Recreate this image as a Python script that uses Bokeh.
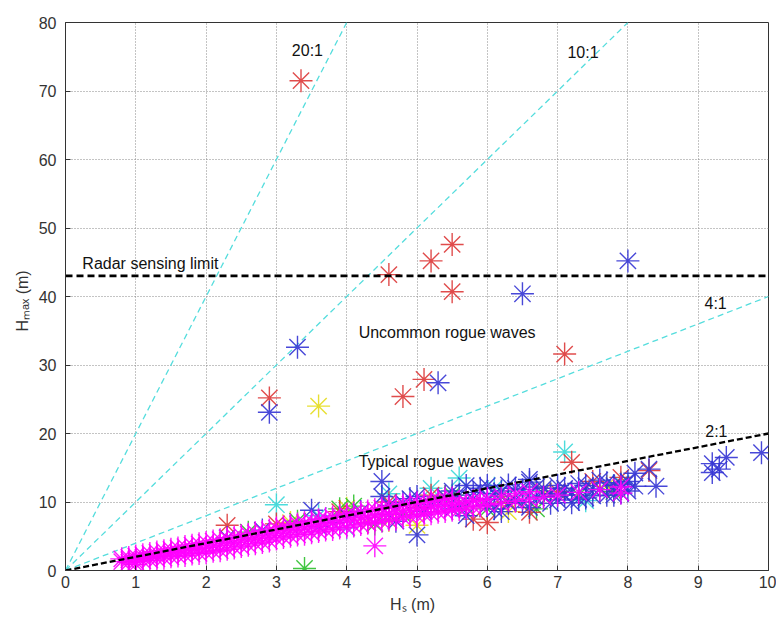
from bokeh.plotting import figure
from bokeh.models import Label, Range1d, FixedTicker
from bokeh.embed import file_html
from bokeh.resources import INLINE

# ---------------- data ----------------
magenta_x = [0.8, 0.8, 0.9, 0.9, 0.9, 1.0, 1.0, 1.0, 1.0, 1.1, 1.1, 1.1, 1.2, 1.2, 1.2, 1.3, 1.3, 1.3,
             1.4, 1.4, 1.4, 1.5, 1.5, 1.5, 1.6, 1.6, 1.6, 1.7, 1.7, 1.7, 1.8, 1.8, 1.8, 1.9, 1.9, 1.9,
             2.0, 2.0, 2.0, 2.1, 2.1, 2.1, 2.2, 2.2, 2.2, 2.3, 2.3, 2.3, 2.4, 2.4, 2.4, 2.5, 2.5, 2.5,
             2.6, 2.6, 2.6, 2.7, 2.7, 2.7, 2.8, 2.8, 2.8, 2.9, 2.9, 2.9, 3.0, 3.0, 3.0, 3.1, 3.1, 3.1,
             3.2, 3.2, 3.2, 3.3, 3.3, 3.3, 3.4, 3.4, 3.4, 3.5, 3.5, 3.5, 3.6, 3.6, 3.6, 3.7, 3.7, 3.7,
             3.8, 3.8, 3.8, 3.9, 3.9, 3.9, 4.0, 4.0, 4.0, 4.1, 4.1, 4.1, 4.2, 4.2, 4.2, 4.3, 4.3, 4.3,
             4.4, 4.4, 4.4, 4.5, 4.5, 4.5, 4.6, 4.6, 4.6, 4.7, 4.7, 4.7, 4.8, 4.8, 4.8, 4.9, 4.9, 4.9,
             5.0, 5.0, 5.0, 5.1, 5.1, 5.1, 5.2, 5.2, 5.2, 5.3, 5.3, 5.3, 5.4, 5.4, 5.4, 5.5, 5.5, 5.5,
             5.6, 5.6, 5.7, 5.7, 5.8, 5.8, 5.9, 5.9, 6.0, 6.0, 6.2, 6.2, 6.4, 6.4, 6.6, 6.6, 6.8, 7.0,
             7.3, 7.6, 7.9, 7.9, 4.4]
magenta_y = [1.3, 1.7, 1.2, 1.6, 1.9, 0.9, 1.3, 1.7, 2.1, 1.4, 1.9, 2.3, 1.5, 2.0, 2.5, 1.7, 2.2, 2.7,
             1.8, 2.4, 2.9, 2.0, 2.6, 3.1, 2.1, 2.7, 3.3, 2.2, 2.9, 3.5, 2.4, 3.1, 3.7, 2.5, 3.2, 3.9,
             2.6, 3.4, 4.1, 2.8, 3.6, 4.3, 2.9, 3.7, 4.5, 3.1, 3.9, 4.7, 3.3, 4.1, 4.9, 3.5, 4.3, 5.1,
             3.7, 4.5, 5.3, 3.9, 4.7, 5.5, 4.1, 4.9, 5.7, 4.3, 5.1, 5.9, 4.6, 5.4, 6.2, 4.8, 5.6, 6.4,
             5.0, 5.8, 6.6, 5.2, 6.0, 6.8, 5.3, 6.2, 7.0, 5.5, 6.4, 7.2, 5.7, 6.6, 7.4, 5.9, 6.8, 7.6,
             6.0, 6.9, 7.8, 6.2, 7.1, 8.0, 6.3, 7.3, 8.2, 6.5, 7.5, 8.4, 6.7, 7.7, 8.5, 6.9, 7.8, 8.7,
             7.0, 8.0, 8.9, 7.2, 8.2, 9.1, 7.4, 8.3, 9.3, 7.5, 8.5, 9.4, 7.7, 8.7, 9.6, 7.9, 8.8, 9.7,
             8.0, 9.0, 9.9, 8.2, 9.1, 10.0, 8.3, 9.3, 10.2, 8.5, 9.4, 10.3, 8.6, 9.6, 10.5, 8.8, 9.7, 10.6,
             8.9, 9.9, 9.1, 10.0, 9.3, 10.2, 9.4, 10.3, 9.6, 10.5, 9.8, 10.9, 10.1, 11.2, 10.4, 11.5, 10.7, 11.0,
             11.4, 11.8, 12.2, 11.3, 3.6]

blue_x = [2.3, 2.8, 3.2, 3.5, 3.8, 4.2, 4.5, 4.6, 4.7, 4.9, 5.0, 5.1, 5.3, 5.5, 5.6, 5.7, 5.8, 5.9, 6.0, 6.1,
          6.2, 6.3, 6.4, 6.5, 6.6, 6.7, 6.8, 6.9, 7.0, 7.1, 7.2, 7.3, 7.4, 7.5, 7.6, 7.7, 7.8, 7.9, 8.0, 8.1,
          8.1, 8.3, 8.4, 9.2, 9.3, 9.2, 9.4, 9.9, 6.5, 8.0, 3.3, 2.9, 5.3, 4.5, 5.7, 6.6,
          4.8, 5.2, 5.4, 5.6, 5.8, 6.0, 6.1, 6.2, 6.3, 6.4, 6.5, 6.7, 6.8, 6.9, 7.0, 7.1, 7.2, 7.3,
          7.4, 7.5, 7.6, 7.7, 7.8, 7.9, 8.0, 5.0, 5.5, 6.0, 6.6, 4.6, 4.0, 3.6]
blue_y = [4.8, 5.9, 6.5, 8.8, 7.0, 8.6, 13.0, 9.5, 7.2, 10.5, 5.2, 8.6, 10.2, 9.0, 11.0, 8.0, 10.5, 12.0, 9.5, 11.2,
          8.6, 12.5, 10.3, 11.8, 9.2, 12.2, 10.8, 9.8, 12.4, 11.0, 9.9, 12.7, 10.6, 11.9, 13.2, 11.0, 12.4, 11.3, 13.0, 12.3,
          14.2, 14.8, 12.3, 15.6, 14.8, 14.3, 16.5, 17.2, 40.4, 45.2, 32.6, 23.1, 27.4, 10.8, 12.4, 13.3,
          9.9, 9.6, 10.8, 9.4, 11.4, 10.4, 9.0, 11.6, 9.8, 12.0, 10.0, 10.6, 12.0, 11.2, 10.3, 12.0, 11.4, 10.4,
          12.4, 10.9, 11.8, 12.8, 11.0, 12.6, 11.6, 10.8, 11.6, 12.4, 12.9, 8.2, 8.0, 6.4]

red_x = [3.35, 4.6, 5.2, 5.5, 5.5, 7.1, 2.9, 4.8, 5.1, 7.2, 2.3, 3.0, 3.9, 4.3, 5.2, 5.8, 6.0, 6.3, 6.6, 7.0,
         7.5, 7.9, 8.3, 5.0, 4.6]
red_y = [71.5, 43.2, 45.2, 47.6, 40.7, 31.6, 25.2, 25.4, 27.9, 15.8, 6.6, 6.8, 8.6, 7.0, 11.0, 7.5, 7.0, 10.0, 8.5, 11.5,
         13.0, 13.6, 14.6, 9.2, 10.0]

green_x = [3.4, 3.9, 4.1, 5.5, 5.7, 6.2, 6.7, 7.3, 7.8, 2.6, 3.3, 4.8, 6.0, 4.4]
green_y = [0.3, 9.0, 9.4, 11.0, 9.3, 10.8, 9.0, 11.0, 11.5, 5.6, 7.2, 8.2, 9.0, 6.8]

cyan_x = [3.0, 7.1, 5.6, 5.2, 6.6, 4.6, 7.4, 3.6, 4.0, 6.1, 7.9]
cyan_y = [9.6, 17.3, 13.5, 12.0, 11.0, 11.2, 10.2, 8.0, 6.2, 12.0, 12.8]

yellow_x = [3.6, 4.0, 5.4, 6.8, 7.7, 5.0, 3.2, 6.3, 4.6]
yellow_y = [24.0, 9.1, 10.8, 11.6, 12.3, 6.6, 7.0, 8.6, 7.3]

ratio_cyan = [20, 10, 4]
ratio_black = [2]
radar_limit = 43
x_ticks = [0, 1, 2, 3, 4, 5, 6, 7, 8, 9, 10]
y_ticks = [0, 10, 20, 30, 40, 50, 60, 70, 80]
XMAX, YMAX = 10, 80

FONT = "Liberation Sans"

p = figure(width=776, height=615, output_backend="svg", toolbar_location=None,
           x_range=Range1d(0, XMAX), y_range=Range1d(0, YMAX),
           min_border_left=65, min_border_right=8, min_border_top=22, min_border_bottom=45)
p.background_fill_color = "white"
p.border_fill_color = "white"
p.outline_line_color = "#333333"
p.outline_line_width = 1

for g in (p.xgrid, p.ygrid):
    g.grid_line_color = "#888888"
    g.grid_line_dash = "1 2"
    g.grid_line_width = 1
p.xgrid.ticker = FixedTicker(ticks=x_ticks)
p.ygrid.ticker = FixedTicker(ticks=y_ticks)

for ax in (p.xaxis[0], p.yaxis[0]):
    ax.major_label_text_font = FONT
    ax.major_label_text_font_size = "16px"
    ax.major_label_text_color = "#333333"
    ax.axis_label_text_font = FONT
    ax.axis_label_text_font_size = "16px"
    ax.axis_label_text_font_style = "normal"
    ax.axis_label_text_color = "#333333"
    ax.major_tick_in = 5
    ax.major_tick_out = 0
    ax.minor_tick_line_color = None
    ax.axis_line_color = "#333333"
    ax.major_tick_line_color = "#333333"
p.xaxis[0].ticker = FixedTicker(ticks=x_ticks)
p.yaxis[0].ticker = FixedTicker(ticks=y_ticks)
p.xaxis[0].major_label_standoff = 5
p.yaxis[0].major_label_standoff = 9
p.xaxis[0].axis_label = "Hₛ   (m)"
p.yaxis[0].axis_label = "Hₘₐₓ   (m)"
p.xaxis[0].axis_label_standoff = 5
p.yaxis[0].axis_label_standoff = 5

for r in ratio_cyan:
    xe = min(XMAX, YMAX / r)
    p.line([0, xe], [0, r * xe], line_color="#55dddd", line_width=1.3, line_dash="6 4")

series = [
    (yellow_x, yellow_y, "#e4dc1c"),
    (green_x, green_y, "#2cc02c"),
    (cyan_x, cyan_y, "#38d8d8"),
    (red_x, red_y, "#dd3838"),
    (blue_x, blue_y, "#3434d4"),
    (magenta_x, magenta_y, "#ff00ff"),
]
for xs, ys, c in series:
    p.scatter(xs, ys, marker="asterisk", size=23, line_color=c, line_width=1.4, line_alpha=0.9)

for r in ratio_black:
    xe = min(XMAX, YMAX / r)
    p.line([0, xe], [0, r * xe], line_color="black", line_width=2.3, line_dash="6 3")

p.line([0, XMAX], [radar_limit, radar_limit], line_color="black", line_width=2.7, line_dash="7 4")

texts = [
    ("20:1", 3.22, 75.9),
    ("10:1", 7.14, 75.6),
    ("4:1", 9.09, 39.0),
    ("2:1", 9.1, 20.3),
    ("Radar sensing limit", 0.24, 44.8),
    ("Uncommon rogue waves", 4.17, 34.8),
    ("Typical rogue waves", 4.17, 15.9),
]
for t, x, y in texts:
    p.add_layout(Label(x=x, y=y, text=t, text_font=FONT, text_font_size="16px",
                       text_color="#111111", text_baseline="middle", text_align="left"))

open("out.html", "w").write(file_html(p, INLINE))
